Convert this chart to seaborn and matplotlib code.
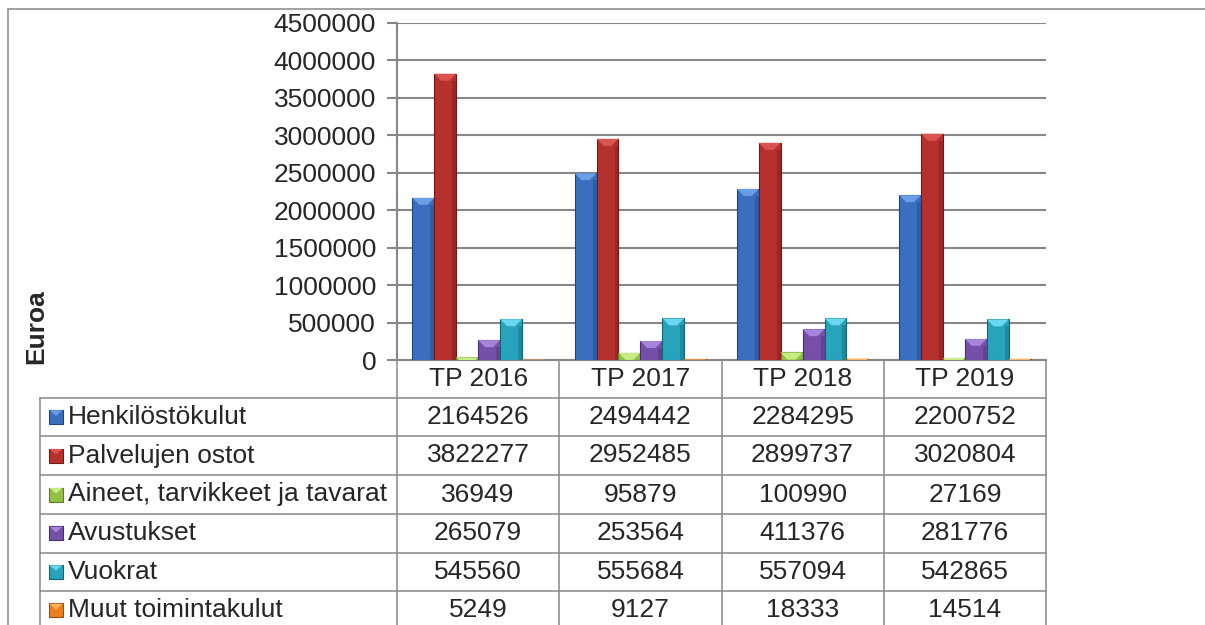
import pandas as pd
import matplotlib
matplotlib.use('Agg')
import matplotlib.pyplot as plt
import matplotlib.transforms as mtransforms
from matplotlib.lines import Line2D
from matplotlib.patches import Polygon, Rectangle
import seaborn as sns

sns.set_style("white")
plt.rcParams['font.family'] = ['Liberation Sans', 'DejaVu Sans']

# Data
years = ['TP 2016', 'TP 2017', 'TP 2018', 'TP 2019']
categories = ['Henkilöstökulut', 'Palvelujen ostot', 'Aineet, tarvikkeet ja tavarat',
              'Avustukset', 'Vuokrat', 'Muut toimintakulut']
henkilosto = [2164526, 2494442, 2284295, 2200752]
palvelut = [3822277, 2952485, 2899737, 3020804]
aineet = [36949, 95879, 100990, 27169]
avustukset = [265079, 253564, 411376, 281776]
vuokrat = [545560, 555684, 557094, 542865]
muut = [5249, 9127, 18333, 14514]
series = [henkilosto, palvelut, aineet, avustukset, vuokrat, muut]

yticks = list(range(0, 4500001, 500000))

# Colors (Office style with bevel)
face = ['#3A6EBE', '#B6302D', '#92C046', '#7650A8', '#27A4BC', '#E8801F']
light = ['#6B9EE6', '#DA5551', '#C8EC84', '#A684D8', '#68D8EE', '#FFB55E']
dark = ['#1F457F', '#741816', '#5C7E26', '#46306E', '#136474', '#94500E']

GRID = '#878787'
W, H = 1205, 625
FS = 19


def fx(x):
    return x / W


def fy(y):
    return 1 - y / H


rows = []
for cat, vals in zip(categories, series):
    for yr, v in zip(years, vals):
        rows.append({'year': yr, 'category': cat, 'value': v})
df = pd.DataFrame(rows)

fig = plt.figure(figsize=(W / 100, H / 100), dpi=100)
ax = fig.add_axes([fx(397), fy(360), fx(1046) - fx(397), fy(23) - fy(360)])

sns.barplot(data=df, x='year', y='value', hue='category', hue_order=categories,
            palette=face, saturation=1, width=0.81, gap=0, dodge=True, legend=False,
            linewidth=0.8, ax=ax, zorder=3)

ax.set_xlim(-0.5, 3.5)
ax.set_ylim(0, 4500000)
ax.set_yticks(yticks)
ax.set_yticklabels([str(t) for t in yticks], fontsize=FS)
ax.set_xticks([])
ax.set_xlabel('')
ax.set_ylabel('')
ax.yaxis.grid(True, color=GRID, linewidth=1.5, zorder=0)
ax.set_axisbelow(True)
for s in ['top', 'right']:
    ax.spines[s].set_visible(False)
for s in ['left', 'bottom']:
    ax.spines[s].set_color(GRID)
    ax.spines[s].set_linewidth(1.5)
ax.tick_params(axis='y', length=7, width=1.5, color=GRID, pad=8, left=True)

# bevel look on bars
px_x = (fx(1046) - fx(397)) * W / 4.0
px_y = (fy(23) - fy(360)) * H / 4500000.0
for i, cont in enumerate(ax.containers):
    for p in cont:
        p.set_edgecolor(dark[i])
        x0 = p.get_x()
        w = p.get_width()
        h = p.get_height()
        if h <= 0:
            continue
        d_px = min(7.0, w * px_x / 2.0, h * px_y)
        dx = d_px / px_x
        dy = d_px / px_y
        top = h
        ax.add_patch(Rectangle((x0 + w * 0.82, 0), w * 0.18, max(top - dy, 0), facecolor=dark[i],
                               edgecolor='none', alpha=0.4, zorder=4))
        ax.add_patch(Polygon([(x0, top), (x0 + w, top), (x0 + w - dx, top - dy), (x0 + dx, top - dy)],
                             closed=True, facecolor=light[i], edgecolor='none', zorder=4))

# axis label
fig.text(fx(36), fy(327), 'Euroa', rotation=90, fontsize=FS, fontweight='bold',
         ha='center', va='center')

# outer frame
lw = 1.1
fig.add_artist(Line2D([fx(8), fx(1205)], [fy(9), fy(9)], color=GRID, lw=lw))
fig.add_artist(Line2D([fx(8), fx(8)], [fy(9), fy(625)], color=GRID, lw=lw))

# data table
trans = mtransforms.blended_transform_factory(ax.transData, fig.transFigure)
row_edges = [360, 397.5, 436, 475, 514, 552.5, 591, 629.5]
for k in range(5):
    fig.add_artist(Line2D([k - 0.5, k - 0.5], [fy(360), fy(625)], color=GRID, lw=lw,
                          transform=trans))
for ye in row_edges[1:-1]:
    fig.add_artist(Line2D([fx(40), fx(1046)], [fy(ye), fy(ye)], color=GRID, lw=lw))
fig.add_artist(Line2D([fx(40), fx(40)], [fy(397.5), fy(625)], color=GRID, lw=lw))

for j, yr in enumerate(years):
    fig.text(j, fy((row_edges[0] + row_edges[1]) / 2), yr, transform=trans,
             fontsize=FS, ha='center', va='center')

for r, (cat, vals) in enumerate(zip(categories, series)):
    yc = (row_edges[r + 1] + row_edges[r + 2]) / 2
    sq = 14
    fig.add_artist(Rectangle((fx(49), fy(yc + sq / 2)), sq / W, sq / H,
                             facecolor=face[r], edgecolor=dark[r], lw=0.8,
                             transform=fig.transFigure))
    fig.add_artist(Polygon([(fx(49.5), fy(yc - sq / 2 + 0.5)), (fx(48.5 + sq), fy(yc - sq / 2 + 0.5)),
                            (fx(49 + sq / 2), fy(yc - 1))], closed=True,
                           facecolor=light[r], edgecolor='none', transform=fig.transFigure))
    fig.text(fx(68), fy(yc), cat, fontsize=FS, ha='left', va='center')
    for j, v in enumerate(vals):
        fig.text(j, fy(yc), str(v), transform=trans, fontsize=FS, ha='center', va='center')

fig.savefig('out.png', dpi=100)
